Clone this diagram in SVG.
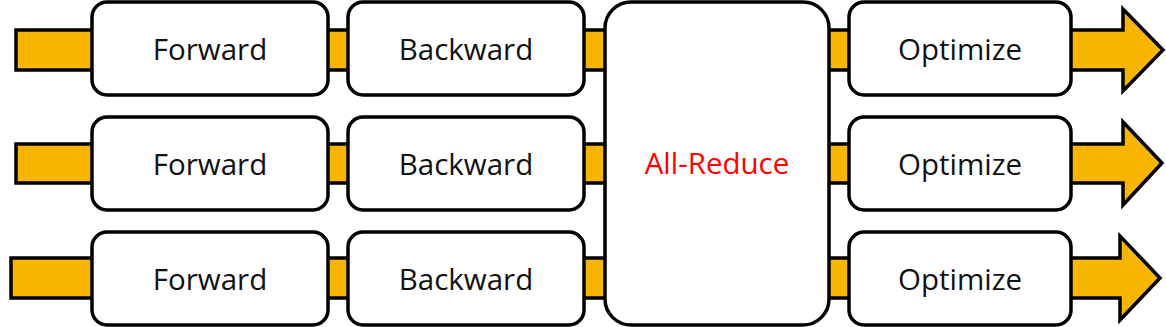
<svg xmlns="http://www.w3.org/2000/svg" width="1166" height="327" viewBox="0 0 1166 327">
<style>
.band{fill:#F8B500;stroke:#000;stroke-width:3.5;stroke-linejoin:miter}
.box{fill:#fff;stroke:#000;stroke-width:3.5}
.lbl{font-family:"Open Sans","Noto Sans",sans-serif;font-size:29.5px;fill:#111;text-anchor:middle}
.red{fill:#FF0000}
</style>
<rect width="1166" height="327" fill="#fff"/>
<g id="connectors">
<polygon class="band" points="16,30 1123,30 1123,9 1163,50 1123,91 1123,70 16,70"/>
<polygon class="band" points="16,144 1123,144 1123,122 1162,163 1123,205 1123,183 16,183"/>
<polygon class="band" points="11,258 1120,258 1120,236 1160,278 1120,320 1120,298 11,298"/>
</g>
<g id="forward1"><rect class="box" x="92" y="2" width="236" height="93" rx="15"/><text class="lbl" x="210" y="60">Forward</text></g>
<g id="backward1"><rect class="box" x="348" y="2" width="236" height="93" rx="15"/><text class="lbl" x="466" y="60">Backward</text></g>
<g id="optimize1"><rect class="box" x="849" y="2" width="222" height="93" rx="15"/><text class="lbl" x="960" y="60">Optimize</text></g>
<g id="forward2"><rect class="box" x="92" y="117" width="236" height="93" rx="15"/><text class="lbl" x="210" y="175">Forward</text></g>
<g id="backward2"><rect class="box" x="348" y="117" width="236" height="93" rx="15"/><text class="lbl" x="466" y="175">Backward</text></g>
<g id="optimize2"><rect class="box" x="849" y="117" width="222" height="93" rx="15"/><text class="lbl" x="960" y="175">Optimize</text></g>
<g id="forward3"><rect class="box" x="92" y="232" width="236" height="93" rx="15"/><text class="lbl" x="210" y="290">Forward</text></g>
<g id="backward3"><rect class="box" x="348" y="232" width="236" height="93" rx="15"/><text class="lbl" x="466" y="290">Backward</text></g>
<g id="optimize3"><rect class="box" x="849" y="232" width="222" height="93" rx="15"/><text class="lbl" x="960" y="290">Optimize</text></g>
<g id="allreduce"><rect class="box" x="605" y="2" width="224" height="323" rx="26"/><text class="lbl red" x="717" y="174">All-Reduce</text></g>
</svg>
